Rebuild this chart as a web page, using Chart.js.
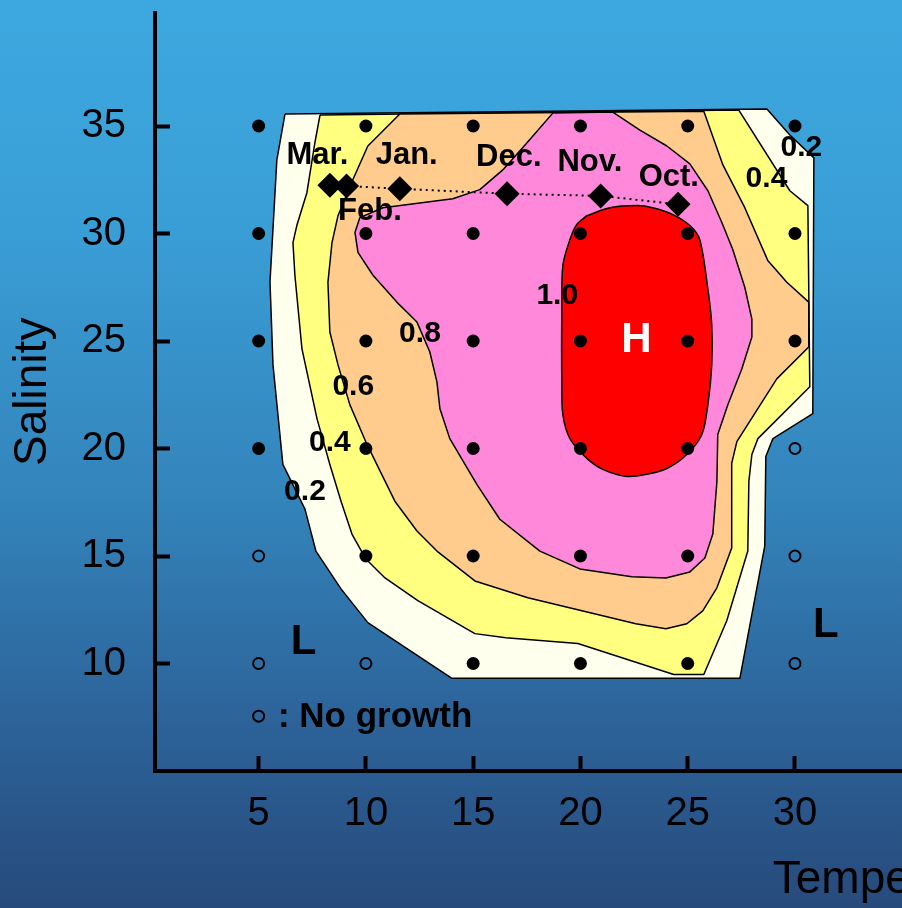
<!DOCTYPE html>
<html><head><meta charset="utf-8">
<script src="https://cdn.jsdelivr.net/npm/chart.js@4.4.1/dist/chart.umd.min.js"></script>
<style>
html,body{margin:0;padding:0;overflow:hidden;width:902px;height:908px;}
body{background:linear-gradient(to bottom,#3da8df 0%,#3a9ed6 25%,#3384bb 55%,#2c6298 80%,#274a7b 100%);}
#wrap{position:absolute;left:0;top:0;width:1060px;height:908px;}
</style></head><body>
<div id="wrap"><canvas id="c" width="1060" height="908"></canvas></div>
<script>
// ---- axis ticks ----
const tempTicks=[5,10,15,20,25,30];
const salTicks=[10,15,20,25,30,35];

// ---- contour regions (temperature, salinity) ----
const c02T=[6.23,28.69,29.76,30.88,30.83,28.97,28.64,28.59,27.43,14.01,10.09,8.84,7.67,7.16,6.13,5.67,5.53,5.85];
const c02S=[35.56,35.79,34.58,33.52,21.62,20.46,19.63,15.46,9.31,9.31,11.90,13.47,15.23,17.18,19.26,23.89,27.73,33.43];
const c04T=[7.86,27.38,29.76,30.60,30.69,28.27,27.99,27.85,27.80,26.82,25.75,24.35,19.88,16.52,15.08,12.42,10.89,10.00,9.35,8.84,8.32,7.72,7.02,6.69,6.60,6.78,7.25,7.62];
const c04S=[35.51,35.74,31.99,31.30,22.87,20.46,19.72,18.47,15.23,11.99,9.49,9.49,10.93,11.20,11.39,12.92,13.98,14.86,16.02,17.55,19.26,21.39,24.63,28.06,29.58,30.37,31.90,34.21];
const c06T=[11.58,25.75,26.64,27.66,28.73,29.62,30.64,30.64,29.15,27.29,27.05,27.05,26.36,25.70,24.96,23.98,22.58,20.07,17.55,15.08,13.31,12.38,11.35,10.05,9.25,8.70,8.32,8.23,8.42,8.70,9.39,10.09];
const c06S=[35.56,35.69,33.19,31.20,28.75,27.73,26.81,24.72,23.24,20.32,19.31,15.37,13.52,12.45,11.85,11.62,11.85,12.45,13.06,13.84,15.23,16.16,17.55,20.19,22.04,23.89,25.42,27.73,29.58,30.83,32.50,34.07];
const c08T=[18.71,21.51,22.77,24.03,25.10,25.94,26.59,27.10,27.66,27.99,27.99,27.52,26.87,26.40,26.36,26.17,25.80,25.10,23.98,22.40,19.97,18.11,16.24,15.17,13.91,13.45,13.31,12.98,12.38,11.44,10.33,9.63,9.49,9.72,10.79,14.05,15.31,16.38,17.50];
const c08S=[35.60,35.65,34.81,34.07,33.24,31.99,30.51,29.26,27.50,26.02,25.19,23.70,22.04,20.65,18.47,16.02,14.91,14.26,13.98,14.03,14.40,15.23,16.71,18.33,20.46,21.85,23.10,24.49,25.88,26.81,28.06,29.12,30.05,30.74,31.20,31.62,32.04,32.96,34.21];
const c10T=[20.30,21.37,22.63,23.37,24.31,25.10,25.56,25.94,26.12,26.12,25.94,25.66,24.96,24.03,23.09,22.16,21.04,20.30,19.51,19.18,19.13,19.13,19.18,19.51,19.83];
const c10S=[30.83,31.20,31.30,31.20,30.88,30.37,29.72,27.41,25.74,23.89,22.04,20.65,19.72,19.07,18.80,18.70,19.03,19.54,20.46,21.57,23.10,26.20,28.52,29.72,30.42];

// ---- culture conditions ----
const growthT=[5,10,15,20,25,30, 5,10,15,20,25,30, 5,10,15,20,25,30, 5,10,15,20,25, 10,15,20,25, 15,20,25];
const growthS=[35,35,35,35,35,35, 30,30,30,30,30,30, 25,25,25,25,25,25, 20,20,20,20,20, 15,15,15,15, 10,10,10];
const noGrowthT=[30,5,30,5,10,30];
const noGrowthS=[20,15,15,10,10,10];

// ---- monthly field conditions ----
const months=['Mar.','Feb.','Jan.','Dec.','Nov.','Oct.'];
const monthT=[8.32,9.10,11.58,16.58,20.94,24.55];
const monthS=[32.25,32.21,32.08,31.85,31.75,31.36];
const monthLabelT=[7.74,10.19,11.90,16.66,20.44,24.12];
const monthLabelS=[33.62,31.02,33.61,33.52,33.29,32.59];

// ---- contour labels ----
const levelLabels=['0.2','0.4','0.2','0.4','0.6','0.8','1.0'];
const levelLabelT=[30.30,28.67,7.16,8.32,9.41,12.52,18.92];
const levelLabelS=[33.98,32.55,18.01,20.28,22.87,25.34,27.12];
const markLabels=['H','L','L'];
const markLabelT=[22.61,7.09,31.44];
const markLabelS=[25.03,10.99,11.76];
const legendText=': No growth';
const legendT=[5]; const legendS=[7.55];
const legendTextPos=[5.90,7.50];

const pts=(T,S,close)=>{const a=T.map((t,i)=>({x:t,y:S[i]})); if(close) a.push({x:T[0],y:S[0]}); return a;};
const poly=(T,S,color,order,tension)=>({data:pts(T,S,true),showLine:true,fill:'shape',backgroundColor:color,
  borderColor:'#000',borderWidth:1.5,pointRadius:0,pointHoverRadius:0,pointHitRadius:0,tension:tension||0,order:order,borderJoinStyle:'round'});

const FONT="'Liberation Sans', Arial, Helvetica, sans-serif";
Chart.defaults.font.family=FONT;

const annot={id:'annot',afterDatasetsDraw(chart){
  const {ctx,scales:{x,y}}=chart;
  ctx.save();
  ctx.textAlign='center'; ctx.textBaseline='middle'; ctx.fillStyle='#000';
  ctx.font="bold 30px "+FONT;
  levelLabels.forEach((t,i)=>ctx.fillText(t,x.getPixelForValue(levelLabelT[i]),y.getPixelForValue(levelLabelS[i])));
  ctx.font="bold 31px "+FONT;
  months.forEach((t,i)=>ctx.fillText(t,x.getPixelForValue(monthLabelT[i]),y.getPixelForValue(monthLabelS[i])));
  ctx.font="bold 42px "+FONT;
  markLabels.forEach((t,i)=>{ctx.fillStyle=t==='H'?'#fff':'#000';ctx.fillText(t,x.getPixelForValue(markLabelT[i]),y.getPixelForValue(markLabelS[i]));});
  ctx.fillStyle='#000'; ctx.textAlign='left';
  ctx.font="bold 35px "+FONT;
  ctx.fillText(legendText,x.getPixelForValue(legendTextPos[0]),y.getPixelForValue(legendTextPos[1]));
  ctx.restore();
}};

const noPad=s=>{s.paddingTop=0;s.paddingBottom=0;s.paddingLeft=0;s.paddingRight=0;};

new Chart(document.getElementById('c'),{
  type:'scatter',
  data:{datasets:[
    poly(c02T,c02S,'#ffffee',9),
    poly(c04T,c04S,'#ffff80',8),
    poly(c06T,c06S,'#ffcc8e',7),
    poly(c08T,c08S,'#ff88da',6),
    poly(c10T,c10S,'#ff0000',5,0.3),
    {data:pts(monthT,monthS),showLine:true,borderColor:'#000',borderWidth:2,borderDash:[2,4],pointRadius:0,order:4},
    {data:pts(monthT,monthS),pointStyle:'rectRot',pointRadius:12.5,backgroundColor:'#000',borderColor:'#000',borderWidth:0,order:3},
    {data:pts(growthT,growthS),pointRadius:6.5,backgroundColor:'#000',borderWidth:0,order:2},
    {data:pts(noGrowthT,noGrowthS).concat(pts(legendT,legendS)),pointRadius:5.5,backgroundColor:'rgba(0,0,0,0)',borderColor:'#000',borderWidth:2,order:1}
  ]},
  options:{
    responsive:false,animation:false,
    layout:{padding:{left:0,top:9,right:29,bottom:0}},
    plugins:{legend:{display:false},tooltip:{enabled:false}},
    scales:{
      x:{type:'linear',min:0.17,max:41,
        afterBuildTicks:s=>{s.ticks=tempTicks.map(v=>({value:v}));},
        afterFit:s=>{s.height=137;noPad(s);},
        grid:{display:true,drawOnChartArea:false,drawTicks:true,tickLength:-15,tickWidth:4,tickColor:'#000'},
        border:{display:true,color:'#000',width:4},
        ticks:{color:'#000',font:{size:40},padding:34,maxRotation:0,autoSkip:false},
        title:{display:true,text:'Temperature',align:'end',color:'#000',font:{size:46},padding:{top:0,bottom:0}}
      },
      y:{type:'linear',min:5,max:40.28,
        afterBuildTicks:s=>{s.ticks=salTicks.map(v=>({value:v}));},
        afterFit:s=>{s.width=155;noPad(s);},
        grid:{display:true,drawOnChartArea:false,drawTicks:true,tickLength:-15,tickWidth:4,tickColor:'#000'},
        border:{display:true,color:'#000',width:4},
        ticks:{color:'#000',font:{size:40},padding:44,autoSkip:false},
        title:{display:true,text:'Salinity',color:'#000',font:{size:46},padding:{top:6,bottom:0}}
      }
    }
  },
  plugins:[annot]
});
</script>
</body></html>
